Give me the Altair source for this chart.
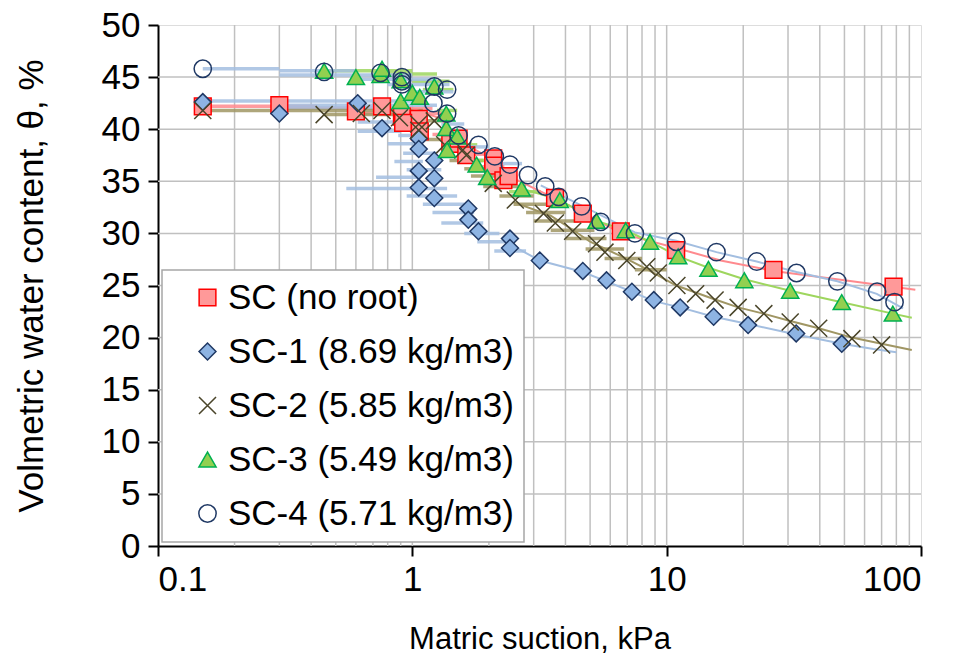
import altair as alt
import pandas as pd

SERIES = ["SC (no root)", "SC-1 (8.69 kg/m3)", "SC-2 (5.85 kg/m3)",
          "SC-3 (5.49 kg/m3)", "SC-4 (5.71 kg/m3)"]

# ---------------- marker data ----------------
sc_x = [0.15, 0.30, 0.60, 0.76, 0.91, 1.06, 0.92, 1.07, 1.41, 1.52, 1.63, 2.08, 2.08, 2.28, 2.39, 3.64, 4.68, 6.6, 10.9, 26.3, 78.0]
sc_y = [42.2, 42.3, 41.7, 42.2, 41.2, 41.0, 40.6, 39.8, 38.6, 39.1, 37.5, 37.2, 36.5, 35.1, 35.5, 33.4, 31.9, 30.2, 28.4, 26.5, 24.9]

sc1_x = [0.15, 0.30, 0.61, 0.76, 1.06, 1.06, 1.22, 1.06, 1.22, 1.06, 1.22, 1.66, 1.66, 1.82, 2.42, 2.42, 3.17, 4.68, 5.8, 7.3, 8.9, 11.3, 15.3, 20.9, 32.3, 48.8]
sc1_y = [42.6, 41.5, 42.5, 40.1, 39.1, 38.1, 37.0, 36.0, 35.3, 34.4, 33.4, 32.4, 31.3, 30.2, 29.5, 28.6, 27.4, 26.4, 25.5, 24.4, 23.6, 22.9, 22.0, 21.2, 20.4, 19.4]

sc2_x = [0.15, 0.45, 0.63, 0.76, 0.89, 1.06, 1.06, 1.22, 1.34, 1.58, 1.63, 2.08, 2.54, 3.28, 3.65, 4.27, 5.3, 5.72, 6.97, 8.35, 9.27, 10.97, 13.0, 15.5, 19.1, 24.1, 30.6, 39.6, 53.5, 70.0]
sc2_y = [41.8, 41.4, 41.5, 41.8, 41.1, 40.5, 39.9, 40.8, 38.5, 38.0, 37.5, 34.8, 33.2, 31.9, 31.0, 30.2, 29.0, 28.2, 27.4, 26.8, 26.2, 25.0, 24.2, 23.6, 22.9, 22.3, 21.5, 20.9, 19.9, 19.3]

sc3_x = [0.45, 0.60, 0.75, 0.76, 0.90, 0.90, 1.00, 1.07, 1.22, 1.36, 1.36, 1.37, 1.50, 1.79, 1.97, 2.69, 3.80, 5.3, 6.9, 8.6, 11.1, 14.6, 20.2, 30.6, 48.8, 77.5]
sc3_y = [45.6, 45.0, 45.2, 45.8, 44.7, 42.7, 43.5, 43.1, 44.1, 41.5, 40.1, 38.0, 39.3, 36.6, 35.4, 34.3, 33.2, 31.2, 30.3, 29.2, 27.8, 26.6, 25.5, 24.5, 23.4, 22.3]

sc4_x = [0.15, 0.45, 0.75, 0.91, 0.91, 0.91, 1.22, 1.37, 1.21, 1.37, 1.52, 1.82, 2.11, 2.42, 2.85, 3.33, 3.76, 4.63, 5.5, 7.5, 10.9, 15.7, 22.6, 32.4, 46.9, 67.2, 78.7]
sc4_y = [45.8, 45.5, 45.4, 45.0, 44.6, 44.3, 44.1, 43.8, 42.5, 41.5, 39.4, 38.5, 37.4, 36.6, 35.6, 34.5, 33.5, 32.6, 31.1, 30.0, 29.2, 28.2, 27.3, 26.2, 25.4, 24.4, 23.4]

# ---------------- continuous measured curves ----------------
sc_line_x = [1.0, 1.3, 1.5, 2.1, 2.4, 3.6, 4.7, 6.6, 10.9, 16.3, 26.3, 50.0, 95.0]
sc_line_y = [42.0, 41.0, 39.0, 37.0, 35.5, 33.4, 32.0, 30.0, 28.6, 27.4, 26.4, 25.5, 24.6]

sc1_line_x = [2.4, 3.17, 4.68, 5.8, 7.3, 8.9, 11.3, 15.3, 20.9, 32.3, 48.8, 65.0, 80.0]
sc1_line_y = [29.0, 27.4, 26.3, 25.4, 24.4, 23.5, 22.9, 22.0, 21.3, 20.3, 19.4, 18.9, 18.6]

sc2_line_x = [2.5, 3.5, 4.24, 5.0, 6.9, 8.6, 10.9, 15.3, 19.1, 24.0, 30.6, 39.6, 53.5, 70.0, 92.0]
sc2_line_y = [33.0, 31.7, 30.4, 29.2, 27.6, 26.4, 25.0, 23.7, 22.9, 22.3, 21.6, 20.9, 20.0, 19.4, 18.8]

sc3_line_x = [2.7, 3.8, 5.3, 6.9, 8.6, 11.1, 14.6, 20.2, 30.6, 48.8, 77.5, 92.0]
sc3_line_y = [34.3, 33.2, 31.2, 30.3, 29.2, 27.8, 26.7, 25.6, 24.5, 23.4, 22.3, 21.9]

sc4_line_x = [3.2, 4.7, 7.5, 10.9, 15.7, 22.6, 32.4, 46.9, 67.0, 85.0]
sc4_line_y = [34.6, 32.6, 30.1, 29.3, 28.2, 27.3, 26.3, 25.4, 24.2, 22.8]

# ---------------- short horizontal steps of the measured records ----------------
sc_bar_y = [42.2, 42.0, 41.5, 39.5, 37.6, 36.4, 35.4]
sc_bar_lo = [0.15, 0.30, 0.60, 1.20, 1.50, 1.80, 2.20]
sc_bar_hi = [0.42, 1.20, 1.30, 1.60, 2.00, 2.30, 2.60]

sc1_bar_y = [42.7, 42.3, 42.0, 40.7, 39.8, 39.4, 38.6, 37.7, 36.9, 36.1, 35.4, 34.3, 33.6, 32.8, 32.0, 31.0, 30.0, 29.2, 28.3]
sc1_bar_lo = [0.15, 0.30, 0.30, 0.61, 0.61, 0.88, 0.80, 0.92, 0.85, 0.95, 0.72, 0.55, 0.95, 1.10, 1.20, 1.30, 1.60, 1.80, 2.10]
sc1_bar_hi = [1.10, 1.25, 0.70, 0.95, 0.90, 1.05, 1.10, 1.25, 1.10, 1.30, 1.05, 1.37, 1.50, 1.60, 1.75, 1.90, 2.20, 2.50, 2.80]

sc2_bar_y = [41.8, 41.4, 40.8, 39.0, 38.2, 37.0, 36.2, 35.5, 34.5, 33.6, 32.8, 32.0, 31.2, 30.3, 29.5, 28.5, 27.6, 26.5]
sc2_bar_lo = [0.15, 0.45, 0.90, 1.10, 1.30, 1.40, 1.60, 1.70, 1.90, 2.20, 2.50, 2.80, 3.00, 3.50, 4.00, 4.80, 5.70, 7.50]
sc2_bar_hi = [1.10, 1.00, 1.40, 1.50, 1.70, 1.90, 2.10, 2.40, 2.80, 3.00, 3.60, 4.00, 4.50, 5.20, 5.80, 6.80, 8.00, 10.0]

sc3_bar_y = [45.6, 45.3, 44.6, 43.8, 41.8, 38.5, 37.0, 35.0, 34.0]
sc3_bar_lo = [0.45, 0.70, 1.00, 1.10, 1.25, 1.45, 1.60, 2.00, 2.40]
sc3_bar_hi = [1.00, 1.25, 1.40, 1.45, 1.50, 1.80, 2.00, 2.60, 3.20]

sc4_bar_y = [45.8, 45.6, 45.2, 44.8, 44.3, 43.6, 40.5, 38.3, 36.7]
sc4_bar_lo = [0.15, 0.30, 0.30, 0.60, 0.80, 1.00, 1.30, 1.60, 2.10]
sc4_bar_hi = [0.30, 0.60, 1.00, 1.25, 1.40, 1.45, 1.60, 2.00, 2.70]

# ---------------- axis / grid values ----------------
x_major = [0.1, 1, 10, 100]
x_grid = [0.2, 0.3, 0.4, 0.5, 0.6, 0.7, 0.8, 0.9, 1, 2, 3, 4, 5, 6, 7, 8, 9, 10,
          20, 30, 40, 50, 60, 70, 80, 90]
y_ticks = [0, 5, 10, 15, 20, 25, 30, 35, 40, 45, 50]
y_grid = [5, 10, 15, 20, 25, 30, 35, 40, 45]

# ---------------- tables ----------------
mx = [sc_x, sc1_x, sc2_x, sc3_x, sc4_x]
my = [sc_y, sc1_y, sc2_y, sc3_y, sc4_y]
lx = [sc_line_x, sc1_line_x, sc2_line_x, sc3_line_x, sc4_line_x]
ly = [sc_line_y, sc1_line_y, sc2_line_y, sc3_line_y, sc4_line_y]
by = [sc_bar_y, sc1_bar_y, sc2_bar_y, sc3_bar_y, sc4_bar_y]
blo = [sc_bar_lo, sc1_bar_lo, sc2_bar_lo, sc3_bar_lo, sc4_bar_lo]
bhi = [sc_bar_hi, sc1_bar_hi, sc2_bar_hi, sc3_bar_hi, sc4_bar_hi]
TRACE_KEYS = [s + " trace" for s in SERIES]

markers = pd.concat([pd.DataFrame({"x": xs, "y": ys, "series": s})
                     for s, xs, ys in zip(SERIES, mx, my)], ignore_index=True)
lines = pd.concat([pd.DataFrame({"x": xs, "y": ys, "key": k, "i": range(len(xs))})
                   for k, xs, ys in zip(TRACE_KEYS, lx, ly)], ignore_index=True)
bars = pd.concat([pd.DataFrame({"y": ys, "lo": lo, "hi": hi, "key": k})
                  for k, ys, lo, hi in zip(TRACE_KEYS, by, blo, bhi)], ignore_index=True)
gx = pd.DataFrame({"x": x_grid})
gy = pd.DataFrame({"y": y_grid})

FONT = "Liberation Sans"
xscale = alt.Scale(type="log", domain=[0.1, 100], nice=False)
yscale = alt.Scale(domain=[0, 50], nice=False, zero=False)

line_colors = ["#FF7C80", "#95B3D7", "#948A54", "#92D050", "#9DB9DC"]
bar_colors = ["#FF8A8E", "#A3BEE0", "#A09664", "#9ED65E", "#A3BEE0"]
fills = ["#FF9999", "#8EB4E3", "transparent", "#92D050", "transparent"]
strokes = ["#FF0000", "#1F3864", "#4A452A", "#00B050", "#1F3864"]
shapes = ["square", "diamond", "M-1,-1L1,1M-1,1L1,-1", "triangle-up", "circle"]
sizes = [280, 300, 230, 340, 300]

x_axis = alt.Axis(values=x_major, labelExpr="datum.value < 1 ? '0.1' : format(datum.value, 'd')",
                  title="Matric suction, kPa", grid=False, tickSize=10, tickWidth=2,
                  tickColor="black", domainColor="black", domainWidth=2,
                  labelFontSize=35, labelPadding=6, titleFontSize=31, titlePadding=27,
                  labelFont=FONT, titleFont=FONT, labelColor="black", titleColor="black",
                  titleFontWeight="normal")
y_axis = alt.Axis(values=y_ticks, title="Volmetric water content, θ, %", grid=False,
                  tickSize=10, tickWidth=2, tickColor="black", domainColor="black",
                  domainWidth=2, labelFontSize=35, labelPadding=8, titleFontSize=35,
                  titlePadding=52, labelFont=FONT, titleFont=FONT, labelColor="black",
                  titleColor="black", titleFontWeight="normal")

grid_v = alt.Chart(gx).mark_rule(color="#C0C0C0", strokeWidth=1.5).encode(
    x=alt.X("x:Q", scale=xscale, axis=x_axis))
grid_h = alt.Chart(gy).mark_rule(color="#C0C0C0", strokeWidth=1.5).encode(
    y=alt.Y("y:Q", scale=yscale, axis=y_axis))

bar_layer = alt.Chart(bars).mark_rule(strokeWidth=3.5, opacity=0.85).encode(
    x=alt.X("lo:Q", scale=xscale), x2="hi:Q",
    y=alt.Y("y:Q", scale=yscale),
    color=alt.Color("key:N", scale=alt.Scale(domain=TRACE_KEYS, range=bar_colors), legend=None))

line_layer = alt.Chart(lines).mark_line(strokeWidth=2).encode(
    x=alt.X("x:Q", scale=xscale), y=alt.Y("y:Q", scale=yscale),
    detail="key:N", order="i:Q",
    color=alt.Color("key:N", scale=alt.Scale(domain=TRACE_KEYS, range=line_colors), legend=None))

marker_legend = alt.Legend(title=None, labelExpr="datum.label + '\u00a0\u00a0\u00a0\u00a0'")

marker_layer = alt.Chart(markers).mark_point(opacity=1, strokeWidth=1.5).encode(
    x=alt.X("x:Q", scale=xscale), y=alt.Y("y:Q", scale=yscale),
    shape=alt.Shape("series:N", scale=alt.Scale(domain=SERIES, range=shapes), legend=marker_legend),
    fill=alt.Fill("series:N", scale=alt.Scale(domain=SERIES, range=fills), legend=marker_legend),
    stroke=alt.Stroke("series:N", scale=alt.Scale(domain=SERIES, range=strokes), legend=marker_legend),
    size=alt.Size("series:N", scale=alt.Scale(domain=SERIES, range=sizes), legend=marker_legend),
)

chart = alt.layer(grid_v, grid_h, bar_layer, line_layer, marker_layer).properties(
    width=763, height=521,
    autosize=alt.AutoSizeParams(type="none"),
    padding={"left": 150, "top": 17, "right": 26, "bottom": 108},
).configure_view(stroke="black", strokeWidth=2).configure(
    background="white"
).configure_legend(
    orient="bottom-left", offset=4, fillColor="white", strokeColor="#A6A6A6",
    strokeWidth=1.5, padding=10, labelFont=FONT, labelFontSize=35, labelColor="black",
    symbolStrokeWidth=1.5, rowPadding=18, symbolOffset=18, labelOffset=3,
    labelLimit=600,
)

chart.save("out.html", embed_options={"renderer": "svg", "actions": False})
